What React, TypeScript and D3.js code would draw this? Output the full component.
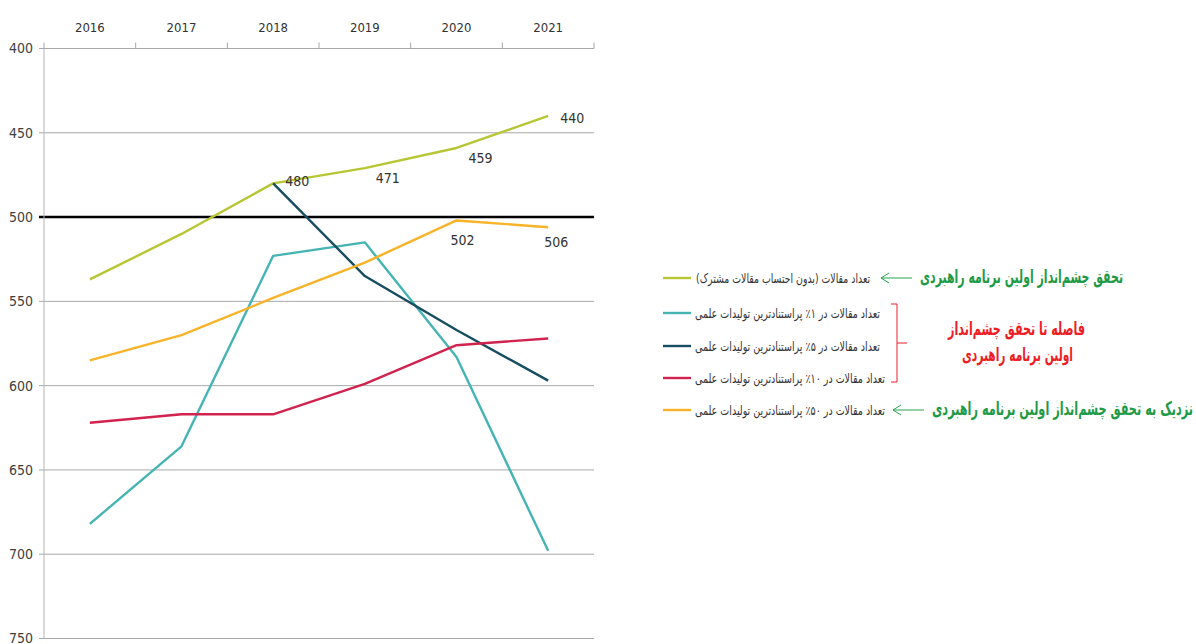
import * as d3 from 'd3';
import React from 'react';

// data (rank: lower is better, axis inverted)
const years = ['2016', '2017', '2018', '2019', '2020', '2021'];
const yTicks = [400, 450, 500, 550, 600, 650, 700, 750];

const allPapers = [537, 510, 480, 471, 459, 440];
const top1 = [682, 636, 523, 515, 583, 698];
const top5 = [null, null, 480, 535, 567, 597];
const top10 = [622, 617, 617, 599, 576, 572];
const top50 = [585, 570, 548, 527, 502, 506];

const seriesNames = [
  'تعداد مقالات (بدون احتساب مقالات مشترک)',
  'تعداد مقالات در ۱٪ پراستنادترین تولیدات علمی',
  'تعداد مقالات در ۵٪ پراستنادترین تولیدات علمی',
  'تعداد مقالات در ۱۰٪ پراستنادترین تولیدات علمی',
  'تعداد مقالات در ۵۰٪ پراستنادترین تولیدات علمی',
];
const seriesColors = ['#b7c634', '#47b4b4', '#174d60', '#d2224f', '#f9b328'];

// which points carry a value label: [series index, year index, dx, dy]
const pointLabels: [number, number, number, number][] = [
  [0, 2, 12, -2],
  [0, 3, 11, 10],
  [0, 4, 12, 10],
  [0, 5, 12, 2],
  [4, 4, -6, 20],
  [4, 5, -4, 15],
];

const goalText = 'تحقق چشم‌انداز اولین برنامه راهبردی';
const gapText = ['فاصله تا تحقق چشم‌انداز', 'اولین برنامه راهبردی'];
const nearText = 'نزدیک به تحقق چشم‌انداز اولین برنامه راهبردی';

const numFont = '"Liberation Sans Narrow", "DejaVu Sans Condensed", "Arial Narrow", sans-serif';
const faFont = '"DejaVu Sans", "Noto Sans", sans-serif';

// Persian text squeezed to the width it has in the picture
const FaText = ({ left, right, y, size, color, bold, children }: any) => (
  <text
    x={(left + right) / 2}
    y={y}
    dy="0.35em"
    textAnchor="middle"
    direction="rtl"
    fontSize={size}
    fontWeight={bold ? 'bold' : 'normal'}
    fontFamily={faFont}
    fill={color}
    textLength={right - left}
    lengthAdjust="spacingAndGlyphs"
  >
    {children}
  </text>
);

const App = () => {
  const width = 1196;
  const height = 644;
  const margin = { top: 48.5, left: 44, right: 602, bottom: 5 };
  const plotW = width - margin.left - margin.right; // 550
  const plotH = height - margin.top - margin.bottom;

  const xScale = d3.scaleBand().domain(years).range([0, plotW]);
  const yScale = d3.scaleLinear().domain([400, 750]).range([0, plotH - 0.5]);
  const xc = (i: number) => (xScale(years[i]) as number) + xScale.bandwidth() / 2;

  const allSeries = [allPapers, top1, top5, top10, top50];
  const line = d3
    .line<number | null>()
    .defined((d) => d !== null)
    .x((_, i) => xc(i))
    .y((d) => yScale(d as number));

  const legendX = 663;
  const legendRows = [278, 313, 346, 378, 410];
  const legendSpan = [
    [694, 870],
    [693, 880],
    [693, 880],
    [693, 885],
    [693, 885],
  ];

  return (
    <svg width={width} height={height} style={{ position: 'absolute', left: 0, top: 0, background: '#fff' }}>
      <g transform={`translate(${margin.left},${margin.top})`}>
        {/* horizontal grid */}
        {yTicks.map((t) => (
          <g key={t}>
            <line
              x1={-5}
              x2={plotW}
              y1={yScale(t)}
              y2={yScale(t)}
              stroke={t === 500 ? '#000' : '#a8a8a8'}
              strokeWidth={t === 500 ? 2.5 : 1}
            />
            <text
              x={-11}
              y={yScale(t)}
              dy="0.35em"
              textAnchor="end"
              fontSize={14}
              fontFamily={numFont}
              fill="#404040"
            >
              {t}
            </text>
          </g>
        ))}
        {/* left axis */}
        <line x1={0} x2={0} y1={0} y2={yScale(750)} stroke="#b5b5b5" strokeWidth={1} />
        {/* top axis ticks and years */}
        {years.map((y, i) => (
          <g key={y}>
            <line
              x1={xScale(y) as number}
              x2={xScale(y) as number}
              y1={-6}
              y2={0}
              stroke="#a8a8a8"
            />
            <text
              x={xc(i)}
              y={-17}
              textAnchor="middle"
              fontSize={13}
              fontFamily={numFont}
              fill="#333"
            >
              {y}
            </text>
          </g>
        ))}
        <line x1={plotW} x2={plotW} y1={-6} y2={0} stroke="#a8a8a8" />

        {/* series lines */}
        {allSeries.map((s, k) => (
          <path
            key={k}
            d={line(s) || ''}
            fill="none"
            stroke={seriesColors[k]}
            strokeWidth={2.4}
            strokeLinejoin="round"
          />
        ))}

        {/* value labels */}
        {pointLabels.map(([k, i, dx, dy]) => (
          <text
            key={`${k}-${i}`}
            x={xc(i) + dx}
            y={yScale(allSeries[k][i] as number) + dy}
            dy="0.35em"
            fontSize={14}
            fontFamily={numFont}
            fill="#333"
          >
            {allSeries[k][i]}
          </text>
        ))}
      </g>

      {/* legend */}
      {seriesNames.map((name, k) => (
        <g key={name}>
          <line
            x1={legendX}
            x2={legendX + 28}
            y1={legendRows[k]}
            y2={legendRows[k]}
            stroke={seriesColors[k]}
            strokeWidth={2.4}
          />
          <FaText left={legendSpan[k][0] + 2} right={legendSpan[k][1]} y={legendRows[k]} size={13} color="#333">
            {name}
          </FaText>
        </g>
      ))}

      {/* green arrows */}
      {[
        { x1: 881, x2: 912, y: legendRows[0] },
        { x1: 893, x2: 924, y: legendRows[4] },
      ].map((a, i) => (
        <g key={i} stroke="#2aa24e" strokeWidth={1} fill="none">
          <line x1={a.x1} x2={a.x2} y1={a.y} y2={a.y} />
          <polyline points={`${a.x1 + 8},${a.y - 5} ${a.x1},${a.y} ${a.x1 + 8},${a.y + 5}`} />
        </g>
      ))}

      {/* red bracket */}
      <path
        d="M891,304 L897,304 L897,382 L891,382 M897,343 L907,343"
        fill="none"
        stroke="#e8202a"
        strokeWidth={1}
      />

      <FaText left={920} right={1123} y={276} size={19} color="#1f9a46" bold>
        {goalText}
      </FaText>
      <FaText left={948} right={1085} y={328} size={19} color="#ee1c24" bold>
        {gapText[0]}
      </FaText>
      <FaText left={962} right={1073} y={354} size={19} color="#ee1c24" bold>
        {gapText[1]}
      </FaText>
      <FaText left={932} right={1193} y={408} size={19} color="#1f9a46" bold>
        {nearText}
      </FaText>
    </svg>
  );
};

export default App;
